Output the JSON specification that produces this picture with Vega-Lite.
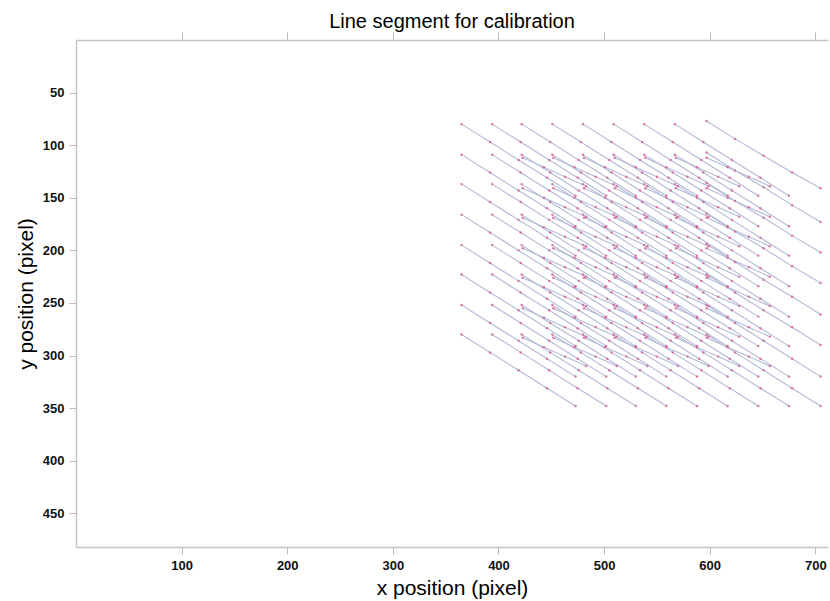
{
"$schema": "https://vega.github.io/schema/vega-lite/v6.json",
"width": 752, "height": 507,
"autosize": {"type": "none"},
"padding": {"left": 76, "top": 40, "right": 2, "bottom": 54},
"background": "white",
"title": {"text": "Line segment for calibration", "fontSize": 20, "fontWeight": "normal", "font": "Liberation Sans", "color": "#000", "offset": 0, "anchor": "middle"},
"config": {"view": {"stroke": null}, "font": "Liberation Sans"},
"data": {"values": [
{"s":0,"x":365,"y":80},{"s":0,"x":392,"y":97},{"s":0,"x":419,"y":114},{"s":0,"x":446,"y":131},{"s":0,"x":473,"y":148},
{"s":1,"x":365,"y":109},{"s":1,"x":392,"y":126},{"s":1,"x":419,"y":143},{"s":1,"x":446,"y":160},{"s":1,"x":473,"y":177},
{"s":2,"x":365,"y":137},{"s":2,"x":392,"y":154},{"s":2,"x":419,"y":171},{"s":2,"x":446,"y":188},{"s":2,"x":473,"y":205},
{"s":3,"x":365,"y":166},{"s":3,"x":392,"y":183},{"s":3,"x":419,"y":200},{"s":3,"x":446,"y":217},{"s":3,"x":473,"y":234},
{"s":4,"x":365,"y":195},{"s":4,"x":392,"y":212},{"s":4,"x":419,"y":229},{"s":4,"x":446,"y":246},{"s":4,"x":473,"y":263},
{"s":5,"x":365,"y":223},{"s":5,"x":392,"y":240},{"s":5,"x":419,"y":257},{"s":5,"x":446,"y":274},{"s":5,"x":473,"y":291},
{"s":6,"x":365,"y":252},{"s":6,"x":392,"y":269},{"s":6,"x":419,"y":286},{"s":6,"x":446,"y":303},{"s":6,"x":473,"y":320},
{"s":7,"x":365,"y":280},{"s":7,"x":392,"y":297},{"s":7,"x":419,"y":314},{"s":7,"x":446,"y":331},{"s":7,"x":473,"y":348},
{"s":8,"x":394,"y":80},{"s":8,"x":421,"y":97},{"s":8,"x":448,"y":114},{"s":8,"x":475,"y":131},{"s":8,"x":502,"y":148},
{"s":9,"x":394,"y":109},{"s":9,"x":421,"y":126},{"s":9,"x":448,"y":143},{"s":9,"x":475,"y":160},{"s":9,"x":502,"y":177},
{"s":10,"x":394,"y":137},{"s":10,"x":421,"y":154},{"s":10,"x":448,"y":171},{"s":10,"x":475,"y":188},{"s":10,"x":502,"y":205},
{"s":11,"x":394,"y":166},{"s":11,"x":421,"y":183},{"s":11,"x":448,"y":200},{"s":11,"x":475,"y":217},{"s":11,"x":502,"y":234},
{"s":12,"x":394,"y":195},{"s":12,"x":421,"y":212},{"s":12,"x":448,"y":229},{"s":12,"x":475,"y":246},{"s":12,"x":502,"y":263},
{"s":13,"x":394,"y":223},{"s":13,"x":421,"y":240},{"s":13,"x":448,"y":257},{"s":13,"x":475,"y":274},{"s":13,"x":502,"y":291},
{"s":14,"x":394,"y":252},{"s":14,"x":421,"y":269},{"s":14,"x":448,"y":286},{"s":14,"x":475,"y":303},{"s":14,"x":502,"y":320},
{"s":15,"x":394,"y":280},{"s":15,"x":421,"y":297},{"s":15,"x":448,"y":314},{"s":15,"x":475,"y":331},{"s":15,"x":502,"y":348},
{"s":16,"x":422,"y":80},{"s":16,"x":449,"y":97},{"s":16,"x":476,"y":114},{"s":16,"x":503,"y":131},{"s":16,"x":530,"y":148},
{"s":17,"x":422,"y":109},{"s":17,"x":449,"y":126},{"s":17,"x":476,"y":143},{"s":17,"x":503,"y":160},{"s":17,"x":530,"y":177},
{"s":18,"x":422,"y":137},{"s":18,"x":449,"y":154},{"s":18,"x":476,"y":171},{"s":18,"x":503,"y":188},{"s":18,"x":530,"y":205},
{"s":19,"x":422,"y":166},{"s":19,"x":449,"y":183},{"s":19,"x":476,"y":200},{"s":19,"x":503,"y":217},{"s":19,"x":530,"y":234},
{"s":20,"x":422,"y":195},{"s":20,"x":449,"y":212},{"s":20,"x":476,"y":229},{"s":20,"x":503,"y":246},{"s":20,"x":530,"y":263},
{"s":21,"x":422,"y":223},{"s":21,"x":449,"y":240},{"s":21,"x":476,"y":257},{"s":21,"x":503,"y":274},{"s":21,"x":530,"y":291},
{"s":22,"x":422,"y":252},{"s":22,"x":449,"y":269},{"s":22,"x":476,"y":286},{"s":22,"x":503,"y":303},{"s":22,"x":530,"y":320},
{"s":23,"x":422,"y":280},{"s":23,"x":449,"y":297},{"s":23,"x":476,"y":314},{"s":23,"x":503,"y":331},{"s":23,"x":530,"y":348},
{"s":24,"x":451,"y":80},{"s":24,"x":478,"y":97},{"s":24,"x":505,"y":114},{"s":24,"x":532,"y":131},{"s":24,"x":559,"y":148},
{"s":25,"x":451,"y":109},{"s":25,"x":478,"y":126},{"s":25,"x":505,"y":143},{"s":25,"x":532,"y":160},{"s":25,"x":559,"y":177},
{"s":26,"x":451,"y":137},{"s":26,"x":478,"y":154},{"s":26,"x":505,"y":171},{"s":26,"x":532,"y":188},{"s":26,"x":559,"y":205},
{"s":27,"x":451,"y":166},{"s":27,"x":478,"y":183},{"s":27,"x":505,"y":200},{"s":27,"x":532,"y":217},{"s":27,"x":559,"y":234},
{"s":28,"x":451,"y":195},{"s":28,"x":478,"y":212},{"s":28,"x":505,"y":229},{"s":28,"x":532,"y":246},{"s":28,"x":559,"y":263},
{"s":29,"x":451,"y":223},{"s":29,"x":478,"y":240},{"s":29,"x":505,"y":257},{"s":29,"x":532,"y":274},{"s":29,"x":559,"y":291},
{"s":30,"x":451,"y":252},{"s":30,"x":478,"y":269},{"s":30,"x":505,"y":286},{"s":30,"x":532,"y":303},{"s":30,"x":559,"y":320},
{"s":31,"x":451,"y":280},{"s":31,"x":478,"y":297},{"s":31,"x":505,"y":314},{"s":31,"x":532,"y":331},{"s":31,"x":559,"y":348},
{"s":32,"x":480,"y":80},{"s":32,"x":507,"y":97},{"s":32,"x":534,"y":114},{"s":32,"x":561,"y":131},{"s":32,"x":588,"y":148},
{"s":33,"x":480,"y":109},{"s":33,"x":507,"y":126},{"s":33,"x":534,"y":143},{"s":33,"x":561,"y":160},{"s":33,"x":588,"y":177},
{"s":34,"x":480,"y":137},{"s":34,"x":507,"y":154},{"s":34,"x":534,"y":171},{"s":34,"x":561,"y":188},{"s":34,"x":588,"y":205},
{"s":35,"x":480,"y":166},{"s":35,"x":507,"y":183},{"s":35,"x":534,"y":200},{"s":35,"x":561,"y":217},{"s":35,"x":588,"y":234},
{"s":36,"x":480,"y":195},{"s":36,"x":507,"y":212},{"s":36,"x":534,"y":229},{"s":36,"x":561,"y":246},{"s":36,"x":588,"y":263},
{"s":37,"x":480,"y":223},{"s":37,"x":507,"y":240},{"s":37,"x":534,"y":257},{"s":37,"x":561,"y":274},{"s":37,"x":588,"y":291},
{"s":38,"x":480,"y":252},{"s":38,"x":507,"y":269},{"s":38,"x":534,"y":286},{"s":38,"x":561,"y":303},{"s":38,"x":588,"y":320},
{"s":39,"x":480,"y":280},{"s":39,"x":507,"y":297},{"s":39,"x":534,"y":314},{"s":39,"x":561,"y":331},{"s":39,"x":588,"y":348},
{"s":40,"x":509,"y":80},{"s":40,"x":536,"y":97},{"s":40,"x":563,"y":114},{"s":40,"x":590,"y":131},{"s":40,"x":617,"y":148},
{"s":41,"x":509,"y":109},{"s":41,"x":536,"y":126},{"s":41,"x":563,"y":143},{"s":41,"x":590,"y":160},{"s":41,"x":617,"y":177},
{"s":42,"x":509,"y":137},{"s":42,"x":536,"y":154},{"s":42,"x":563,"y":171},{"s":42,"x":590,"y":188},{"s":42,"x":617,"y":205},
{"s":43,"x":509,"y":166},{"s":43,"x":536,"y":183},{"s":43,"x":563,"y":200},{"s":43,"x":590,"y":217},{"s":43,"x":617,"y":234},
{"s":44,"x":509,"y":195},{"s":44,"x":536,"y":212},{"s":44,"x":563,"y":229},{"s":44,"x":590,"y":246},{"s":44,"x":617,"y":263},
{"s":45,"x":509,"y":223},{"s":45,"x":536,"y":240},{"s":45,"x":563,"y":257},{"s":45,"x":590,"y":274},{"s":45,"x":617,"y":291},
{"s":46,"x":509,"y":252},{"s":46,"x":536,"y":269},{"s":46,"x":563,"y":286},{"s":46,"x":590,"y":303},{"s":46,"x":617,"y":320},
{"s":47,"x":509,"y":280},{"s":47,"x":536,"y":297},{"s":47,"x":563,"y":314},{"s":47,"x":590,"y":331},{"s":47,"x":617,"y":348},
{"s":48,"x":538,"y":80},{"s":48,"x":565,"y":97},{"s":48,"x":592,"y":114},{"s":48,"x":619,"y":131},{"s":48,"x":646,"y":148},
{"s":49,"x":538,"y":109},{"s":49,"x":565,"y":126},{"s":49,"x":592,"y":143},{"s":49,"x":619,"y":160},{"s":49,"x":646,"y":177},
{"s":50,"x":538,"y":137},{"s":50,"x":565,"y":154},{"s":50,"x":592,"y":171},{"s":50,"x":619,"y":188},{"s":50,"x":646,"y":205},
{"s":51,"x":538,"y":166},{"s":51,"x":565,"y":183},{"s":51,"x":592,"y":200},{"s":51,"x":619,"y":217},{"s":51,"x":646,"y":234},
{"s":52,"x":538,"y":195},{"s":52,"x":565,"y":212},{"s":52,"x":592,"y":229},{"s":52,"x":619,"y":246},{"s":52,"x":646,"y":263},
{"s":53,"x":538,"y":223},{"s":53,"x":565,"y":240},{"s":53,"x":592,"y":257},{"s":53,"x":619,"y":274},{"s":53,"x":646,"y":291},
{"s":54,"x":538,"y":252},{"s":54,"x":565,"y":269},{"s":54,"x":592,"y":286},{"s":54,"x":619,"y":303},{"s":54,"x":646,"y":320},
{"s":55,"x":538,"y":280},{"s":55,"x":565,"y":297},{"s":55,"x":592,"y":314},{"s":55,"x":619,"y":331},{"s":55,"x":646,"y":348},
{"s":56,"x":567,"y":80},{"s":56,"x":594,"y":97},{"s":56,"x":621,"y":114},{"s":56,"x":648,"y":131},{"s":56,"x":675,"y":148},
{"s":57,"x":567,"y":109},{"s":57,"x":594,"y":126},{"s":57,"x":621,"y":143},{"s":57,"x":648,"y":160},{"s":57,"x":675,"y":177},
{"s":58,"x":567,"y":137},{"s":58,"x":594,"y":154},{"s":58,"x":621,"y":171},{"s":58,"x":648,"y":188},{"s":58,"x":675,"y":205},
{"s":59,"x":567,"y":166},{"s":59,"x":594,"y":183},{"s":59,"x":621,"y":200},{"s":59,"x":648,"y":217},{"s":59,"x":675,"y":234},
{"s":60,"x":567,"y":195},{"s":60,"x":594,"y":212},{"s":60,"x":621,"y":229},{"s":60,"x":648,"y":246},{"s":60,"x":675,"y":263},
{"s":61,"x":567,"y":223},{"s":61,"x":594,"y":240},{"s":61,"x":621,"y":257},{"s":61,"x":648,"y":274},{"s":61,"x":675,"y":291},
{"s":62,"x":567,"y":252},{"s":62,"x":594,"y":269},{"s":62,"x":621,"y":286},{"s":62,"x":648,"y":303},{"s":62,"x":675,"y":320},
{"s":63,"x":567,"y":280},{"s":63,"x":594,"y":297},{"s":63,"x":621,"y":314},{"s":63,"x":648,"y":331},{"s":63,"x":675,"y":348},
{"s":64,"x":597,"y":77},{"s":64,"x":624,"y":94},{"s":64,"x":651,"y":110},{"s":64,"x":678,"y":126},{"s":64,"x":705,"y":141},
{"s":65,"x":597,"y":107},{"s":65,"x":624,"y":124},{"s":65,"x":651,"y":140},{"s":65,"x":678,"y":157},{"s":65,"x":705,"y":173},
{"s":66,"x":597,"y":136},{"s":66,"x":624,"y":153},{"s":66,"x":651,"y":169},{"s":66,"x":678,"y":186},{"s":66,"x":705,"y":202},
{"s":67,"x":597,"y":165},{"s":67,"x":624,"y":182},{"s":67,"x":651,"y":198},{"s":67,"x":678,"y":215},{"s":67,"x":705,"y":231},
{"s":68,"x":597,"y":194},{"s":68,"x":624,"y":211},{"s":68,"x":651,"y":228},{"s":68,"x":678,"y":244},{"s":68,"x":705,"y":261},
{"s":69,"x":597,"y":223},{"s":69,"x":624,"y":240},{"s":69,"x":651,"y":257},{"s":69,"x":678,"y":273},{"s":69,"x":705,"y":290},
{"s":70,"x":597,"y":252},{"s":70,"x":624,"y":269},{"s":70,"x":651,"y":286},{"s":70,"x":678,"y":303},{"s":70,"x":705,"y":320},
{"s":71,"x":597,"y":280},{"s":71,"x":624,"y":297},{"s":71,"x":651,"y":314},{"s":71,"x":678,"y":331},{"s":71,"x":705,"y":348},
{"s":100,"x":423,"y":112},{"s":100,"x":443,"y":121},{"s":100,"x":463,"y":130},{"s":100,"x":483,"y":139},
{"s":101,"x":423,"y":141},{"s":101,"x":443,"y":150},{"s":101,"x":463,"y":159},{"s":101,"x":483,"y":168},
{"s":102,"x":423,"y":169},{"s":102,"x":443,"y":178},{"s":102,"x":463,"y":187},{"s":102,"x":483,"y":196},
{"s":103,"x":423,"y":198},{"s":103,"x":443,"y":207},{"s":103,"x":463,"y":216},{"s":103,"x":483,"y":225},
{"s":104,"x":423,"y":226},{"s":104,"x":443,"y":235},{"s":104,"x":463,"y":244},{"s":104,"x":483,"y":253},
{"s":105,"x":423,"y":255},{"s":105,"x":443,"y":264},{"s":105,"x":463,"y":273},{"s":105,"x":483,"y":282},
{"s":106,"x":423,"y":283},{"s":106,"x":443,"y":292},{"s":106,"x":463,"y":301},{"s":106,"x":483,"y":310},
{"s":107,"x":452,"y":112},{"s":107,"x":472,"y":121},{"s":107,"x":492,"y":130},{"s":107,"x":512,"y":139},
{"s":108,"x":452,"y":141},{"s":108,"x":472,"y":150},{"s":108,"x":492,"y":159},{"s":108,"x":512,"y":168},
{"s":109,"x":452,"y":169},{"s":109,"x":472,"y":178},{"s":109,"x":492,"y":187},{"s":109,"x":512,"y":196},
{"s":110,"x":452,"y":198},{"s":110,"x":472,"y":207},{"s":110,"x":492,"y":216},{"s":110,"x":512,"y":225},
{"s":111,"x":452,"y":226},{"s":111,"x":472,"y":235},{"s":111,"x":492,"y":244},{"s":111,"x":512,"y":253},
{"s":112,"x":452,"y":255},{"s":112,"x":472,"y":264},{"s":112,"x":492,"y":273},{"s":112,"x":512,"y":282},
{"s":113,"x":452,"y":283},{"s":113,"x":472,"y":292},{"s":113,"x":492,"y":301},{"s":113,"x":512,"y":310},
{"s":114,"x":481,"y":112},{"s":114,"x":501,"y":121},{"s":114,"x":521,"y":130},{"s":114,"x":541,"y":139},
{"s":115,"x":481,"y":141},{"s":115,"x":501,"y":150},{"s":115,"x":521,"y":159},{"s":115,"x":541,"y":168},
{"s":116,"x":481,"y":169},{"s":116,"x":501,"y":178},{"s":116,"x":521,"y":187},{"s":116,"x":541,"y":196},
{"s":117,"x":481,"y":198},{"s":117,"x":501,"y":207},{"s":117,"x":521,"y":216},{"s":117,"x":541,"y":225},
{"s":118,"x":481,"y":226},{"s":118,"x":501,"y":235},{"s":118,"x":521,"y":244},{"s":118,"x":541,"y":253},
{"s":119,"x":481,"y":255},{"s":119,"x":501,"y":264},{"s":119,"x":521,"y":273},{"s":119,"x":541,"y":282},
{"s":120,"x":481,"y":283},{"s":120,"x":501,"y":292},{"s":120,"x":521,"y":301},{"s":120,"x":541,"y":310},
{"s":121,"x":510,"y":112},{"s":121,"x":530,"y":121},{"s":121,"x":550,"y":130},{"s":121,"x":570,"y":139},
{"s":122,"x":510,"y":141},{"s":122,"x":530,"y":150},{"s":122,"x":550,"y":159},{"s":122,"x":570,"y":168},
{"s":123,"x":510,"y":169},{"s":123,"x":530,"y":178},{"s":123,"x":550,"y":187},{"s":123,"x":570,"y":196},
{"s":124,"x":510,"y":198},{"s":124,"x":530,"y":207},{"s":124,"x":550,"y":216},{"s":124,"x":570,"y":225},
{"s":125,"x":510,"y":226},{"s":125,"x":530,"y":235},{"s":125,"x":550,"y":244},{"s":125,"x":570,"y":253},
{"s":126,"x":510,"y":255},{"s":126,"x":530,"y":264},{"s":126,"x":550,"y":273},{"s":126,"x":570,"y":282},
{"s":127,"x":510,"y":283},{"s":127,"x":530,"y":292},{"s":127,"x":550,"y":301},{"s":127,"x":570,"y":310},
{"s":128,"x":539,"y":112},{"s":128,"x":559,"y":121},{"s":128,"x":579,"y":130},{"s":128,"x":599,"y":139},
{"s":129,"x":539,"y":141},{"s":129,"x":559,"y":150},{"s":129,"x":579,"y":159},{"s":129,"x":599,"y":168},
{"s":130,"x":539,"y":169},{"s":130,"x":559,"y":178},{"s":130,"x":579,"y":187},{"s":130,"x":599,"y":196},
{"s":131,"x":539,"y":198},{"s":131,"x":559,"y":207},{"s":131,"x":579,"y":216},{"s":131,"x":599,"y":225},
{"s":132,"x":539,"y":226},{"s":132,"x":559,"y":235},{"s":132,"x":579,"y":244},{"s":132,"x":599,"y":253},
{"s":133,"x":539,"y":255},{"s":133,"x":559,"y":264},{"s":133,"x":579,"y":273},{"s":133,"x":599,"y":282},
{"s":134,"x":539,"y":283},{"s":134,"x":559,"y":292},{"s":134,"x":579,"y":301},{"s":134,"x":599,"y":310},
{"s":135,"x":568,"y":112},{"s":135,"x":588,"y":121},{"s":135,"x":608,"y":130},{"s":135,"x":628,"y":139},
{"s":136,"x":568,"y":141},{"s":136,"x":588,"y":150},{"s":136,"x":608,"y":159},{"s":136,"x":628,"y":168},
{"s":137,"x":568,"y":169},{"s":137,"x":588,"y":178},{"s":137,"x":608,"y":187},{"s":137,"x":628,"y":196},
{"s":138,"x":568,"y":198},{"s":138,"x":588,"y":207},{"s":138,"x":608,"y":216},{"s":138,"x":628,"y":225},
{"s":139,"x":568,"y":226},{"s":139,"x":588,"y":235},{"s":139,"x":608,"y":244},{"s":139,"x":628,"y":253},
{"s":140,"x":568,"y":255},{"s":140,"x":588,"y":264},{"s":140,"x":608,"y":273},{"s":140,"x":628,"y":282},
{"s":141,"x":568,"y":283},{"s":141,"x":588,"y":292},{"s":141,"x":608,"y":301},{"s":141,"x":628,"y":310},
{"s":142,"x":597,"y":112},{"s":142,"x":617,"y":121},{"s":142,"x":637,"y":130},{"s":142,"x":657,"y":139},
{"s":143,"x":597,"y":141},{"s":143,"x":617,"y":150},{"s":143,"x":637,"y":159},{"s":143,"x":657,"y":168},
{"s":144,"x":597,"y":169},{"s":144,"x":617,"y":178},{"s":144,"x":637,"y":187},{"s":144,"x":657,"y":196},
{"s":145,"x":597,"y":198},{"s":145,"x":617,"y":207},{"s":145,"x":637,"y":216},{"s":145,"x":657,"y":225},
{"s":146,"x":597,"y":226},{"s":146,"x":617,"y":235},{"s":146,"x":637,"y":244},{"s":146,"x":657,"y":253},
{"s":147,"x":597,"y":255},{"s":147,"x":617,"y":264},{"s":147,"x":637,"y":273},{"s":147,"x":657,"y":282},
{"s":148,"x":597,"y":283},{"s":148,"x":617,"y":292},{"s":148,"x":637,"y":301},{"s":148,"x":657,"y":310}
]},
"layer": [
{"mark": {"type": "line", "color": "#b3bad6", "strokeWidth": 1.1},
 "encoding": {
  "detail": {"field": "s", "type": "nominal"},
  "x": {"field": "x", "type": "quantitative", "scale": {"domain": [0, 712], "nice": false, "zero": false},
        "axis": {"orient": "bottom", "values": [100,200,300,400,500,600,700], "grid": false, "title": "x position (pixel)", "titleFontSize": 21, "titleFontWeight": "normal", "titleColor": "#000", "titlePadding": 5, "labelFontSize": 13, "labelFontWeight": "bold", "labelColor": "#111", "labelPadding": 5, "tickSize": 7, "tickColor": "#bbb", "domainColor": "#c4c4c4", "domainWidth": 1.5}},
  "y": {"field": "y", "type": "quantitative", "scale": {"domain": [0, 482], "reverse": true, "nice": false, "zero": false},
        "axis": {"orient": "left", "values": [50,100,150,200,250,300,350,400,450], "grid": false, "title": "y position (pixel)", "titleFontSize": 21, "titleFontWeight": "normal", "titleColor": "#000", "titlePadding": 6, "labelFontSize": 13, "labelFontWeight": "bold", "labelColor": "#111", "labelPadding": 5, "tickSize": 7, "tickColor": "#bbb", "domainColor": "#c4c4c4", "domainWidth": 1.5}}
 }},
{"mark": {"type": "point", "filled": true, "color": "#dc5f95", "size": 6, "opacity": 0.85},
 "encoding": {
  "x": {"field": "x", "type": "quantitative", "scale": {"domain": [0, 712], "nice": false, "zero": false},
        "axis": {"orient": "top", "values": [100,200,300,400,500,600,700], "grid": false, "labels": false, "title": null, "tickSize": 8, "tickColor": "#bbb", "domainColor": "#c4c4c4", "domainWidth": 1.5}},
  "y": {"field": "y", "type": "quantitative", "scale": {"domain": [0, 482], "reverse": true, "nice": false, "zero": false}}
 }}
],
"resolve": {"axis": {"x": "independent"}}
}
